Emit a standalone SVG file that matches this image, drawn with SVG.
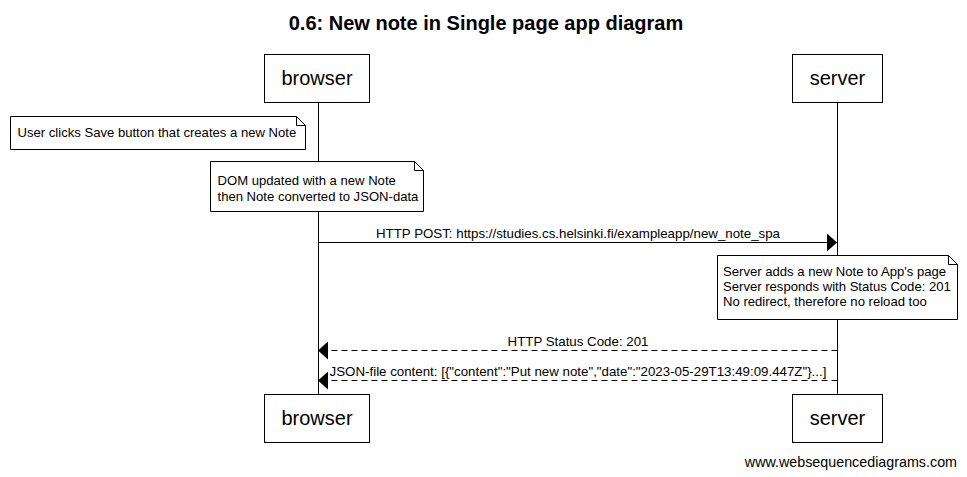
<svg xmlns="http://www.w3.org/2000/svg" width="967" height="477" viewBox="0 0 967 477">
<style>
text{font-family:"Liberation Sans",Arial,sans-serif;fill:#000}
.actor rect{fill:#fff;stroke:#000;stroke-width:1}
.actor text{font-size:20px;text-anchor:middle}
.note path{fill:#fff;stroke:#000;stroke-width:1}
.note text{font-size:13.1px}
.life{stroke:#000;stroke-width:1}
.msg{stroke:#000;stroke-width:1;fill:none}
.dash{stroke-dasharray:6,4}
.lbl{font-size:13.3px;text-anchor:middle}
</style>
<defs>
<marker id="ah" markerWidth="10" markerHeight="18" refX="10" refY="9" orient="auto" markerUnits="userSpaceOnUse">
<path d="M0,0 L10,9 L0,18 Z" fill="#000"/>
</marker>
</defs>
<rect width="967" height="477" fill="#fff"/>
<text x="486" y="30" font-size="20" font-weight="bold" text-anchor="middle">0.6: New note in Single page app diagram</text>
<g id="lifelines">
<line class="life" x1="318.5" y1="102" x2="318.5" y2="394"/>
<line class="life" x1="837.5" y1="102" x2="837.5" y2="394"/>
</g>
<g id="browser-top" class="actor"><rect x="264.5" y="54.5" width="105" height="48"/><text x="317" y="85">browser</text></g>
<g id="server-top" class="actor"><rect x="792.5" y="54.5" width="90" height="48"/><text x="837.5" y="85">server</text></g>
<g id="browser-bottom" class="actor"><rect x="264.5" y="394.5" width="105" height="48"/><text x="317" y="425">browser</text></g>
<g id="server-bottom" class="actor"><rect x="792.5" y="394.5" width="90" height="48"/><text x="837.5" y="425">server</text></g>
<g id="note1" class="note"><path d="M10.5,116.5 H296.5 L305.5,125.5 V149.5 H10.5 Z M296.5,116.5 V125.5 H305.5"/><text x="17.5" y="137">User clicks Save button that creates a new Note</text></g>
<g id="note2" class="note"><path d="M210.5,161.5 H414.5 L423.5,170.5 V211.5 H210.5 Z M414.5,161.5 V170.5 H423.5"/><text x="217.5" y="185">DOM updated with a new Note</text><text x="217.5" y="201">then Note converted to JSON-data</text></g>
<g id="note3" class="note"><path d="M717.5,255.5 H948.5 L957.5,264.5 V319.5 H717.5 Z M948.5,255.5 V264.5 H957.5"/><text x="723" y="276">Server adds a new Note to App's page</text><text x="723" y="291">Server responds with Status Code: 201</text><text x="723" y="306">No redirect, therefore no reload too</text></g>
<g id="connectors">
<line class="msg" x1="318.5" y1="242.5" x2="837" y2="242.5" marker-end="url(#ah)"/>
<text class="lbl" x="578" y="238">HTTP POST: https://studies.cs.helsinki.fi/exampleapp/new_note_spa</text>
<line class="msg dash" x1="837.5" y1="350.5" x2="318" y2="350.5" marker-end="url(#ah)"/>
<text class="lbl" x="578" y="346">HTTP Status Code: 201</text>
<line class="msg dash" x1="837.5" y1="380.5" x2="318" y2="380.5" marker-end="url(#ah)"/>
<text class="lbl" x="578" y="376">JSON-file content: [{"content":"Put new note","date":"2023-05-29T13:49:09.447Z"}...]</text>
</g>
<text x="957" y="467" font-size="14.3" text-anchor="end">www.websequencediagrams.com</text>
</svg>
